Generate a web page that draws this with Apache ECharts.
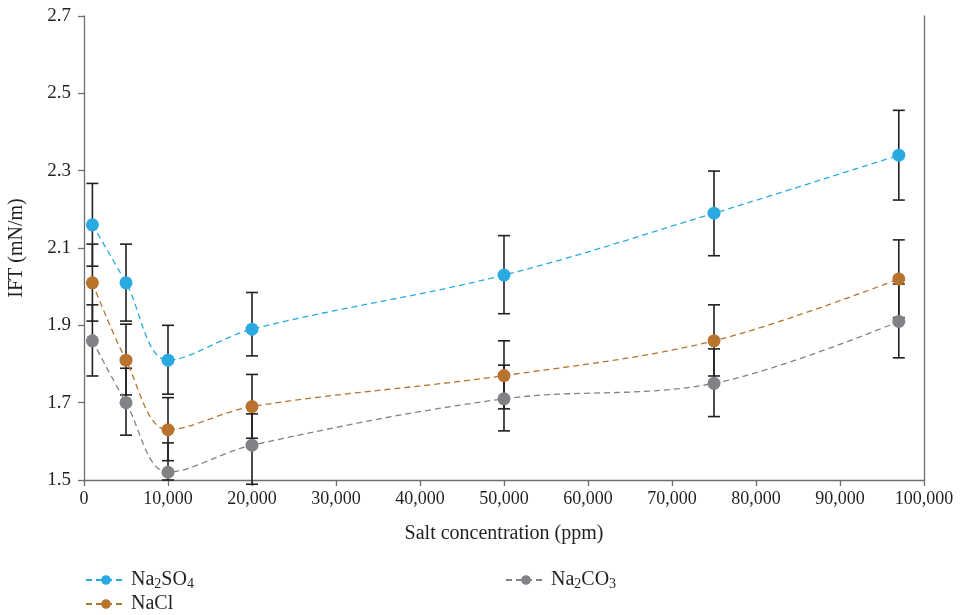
<!DOCTYPE html>
<html>
<head>
<meta charset="utf-8">
<script src="https://cdn.jsdelivr.net/npm/echarts@6/dist/echarts.min.js"></script>
<style>
  html, body { margin: 0; padding: 0; background: #fff; }
  #chart { width: 960px; height: 615px; }
</style>
</head>
<body>
<div id="chart"></div>
<script>
// salt concentration (ppm)
var conc = [1000, 5000, 10000, 20000, 50000, 75000, 97000];

// IFT values (mN/m)
var na2so4 = [2.16, 2.01, 1.81, 1.89, 2.03, 2.19, 2.34];
var nacl   = [2.01, 1.81, 1.63, 1.69, 1.77, 1.86, 2.02];
var na2co3 = [1.86, 1.70, 1.52, 1.59, 1.71, 1.75, 1.91];

// error bar ends
var na2so4Low  = [2.053, 1.911, 1.722, 1.821, 1.930, 2.080, 2.224];
var na2so4High = [2.267, 2.110, 1.900, 1.985, 2.132, 2.299, 2.456];
var naclLow    = [1.911, 1.720, 1.550, 1.608, 1.684, 1.769, 1.920];
var naclHigh   = [2.110, 1.903, 1.713, 1.773, 1.860, 1.953, 2.121];
var na2co3Low  = [1.769, 1.616, 1.500, 1.489, 1.627, 1.664, 1.816];
var na2co3High = [1.953, 1.789, 1.596, 1.671, 1.797, 1.839, 2.007];

var yTicks = [1.5, 1.7, 1.9, 2.1, 2.3, 2.5, 2.7];

var FONT = '"Liberation Serif", "DejaVu Serif", serif';
var INK = '#231f20';
var AXIS = '#6d6e71';

function pairs(xs, ys) {
  return xs.map(function (x, i) { return [x, ys[i]]; });
}
function errData(xs, lo, hi) {
  return xs.map(function (x, i) { return [x, lo[i], hi[i]]; });
}

function renderErr(params, api) {
  var x = api.value(0);
  var top = api.coord([x, api.value(2)]);
  var bot = api.coord([x, api.value(1)]);
  var w = 6;
  var st = { stroke: INK, lineWidth: 1.6 };
  return {
    type: 'group',
    children: [
      { type: 'line', shape: { x1: top[0], y1: top[1], x2: bot[0], y2: bot[1] }, style: st },
      { type: 'line', shape: { x1: top[0] - w, y1: top[1], x2: top[0] + w, y2: top[1] }, style: st },
      { type: 'line', shape: { x1: bot[0] - w, y1: bot[1], x2: bot[0] + w, y2: bot[1] }, style: st }
    ]
  };
}

function lineSeries(name, data, color) {
  return {
    name: name,
    type: 'line',
    data: pairs(conc, data),
    smooth: 0.35,
    symbol: 'circle',
    symbolSize: 13,
    z: 3,
    itemStyle: { color: color },
    lineStyle: { color: color, width: 1.3, type: [6, 4] }
  };
}

function errSeries(lo, hi) {
  return {
    type: 'custom',
    data: errData(conc, lo, hi),
    renderItem: renderErr,
    z: 2,
    silent: true
  };
}

var subRich = {
  n: { fontFamily: FONT, fontSize: 20, color: INK, lineHeight: 22 },
  s: { fontFamily: FONT, fontSize: 14, color: INK, lineHeight: 14, verticalAlign: 'bottom' }
};
var legendNames = {
  'Na2SO4': '{n|Na}{s|2}{n|SO}{s|4}',
  'NaCl': '{n|NaCl}',
  'Na2CO3': '{n|Na}{s|2}{n|CO}{s|3}'
};
function legendFmt(name) { return legendNames[name]; }

function legendAt(name, left, top) {
  return {
    data: [name],
    left: left, top: top,
    itemWidth: 40, itemHeight: 12, itemGap: 7,
    formatter: legendFmt,
    textStyle: { rich: subRich }
  };
}

var option = {
  backgroundColor: '#fff',
  animation: false,
  grid: { left: 84, right: 36, top: 16, bottom: 135, containLabel: false, outerBoundsMode: 'none' },
  legend: [
    legendAt('Na2SO4', 80, 565),
    legendAt('NaCl', 80, 589),
    legendAt('Na2CO3', 500, 565)
  ],
  xAxis: {
    type: 'value',
    min: 0, max: 100000, interval: 10000,
    name: 'Salt concentration (ppm)',
    nameLocation: 'middle',
    nameGap: 44,
    nameTextStyle: { fontFamily: FONT, fontSize: 20, color: INK },
    axisLine: { lineStyle: { color: AXIS, width: 1.3 } },
    axisTick: { show: true, length: 6, lineStyle: { color: AXIS, width: 1.3 } },
    axisLabel: {
      fontFamily: FONT, fontSize: 18, color: INK, margin: 10,
      formatter: function (v) { return v.toLocaleString('en-US'); }
    },
    splitLine: { show: false }
  },
  yAxis: [
    {
      type: 'value',
      min: 1.5, max: 2.7, interval: 0.2,
      name: 'IFT (mN/m)',
      nameLocation: 'middle',
      nameGap: 57,
      nameTextStyle: { fontFamily: FONT, fontSize: 20, color: INK },
      axisLine: { show: true, lineStyle: { color: AXIS, width: 1.3 } },
      axisTick: { show: true, length: 6, lineStyle: { color: AXIS, width: 1.3 } },
      axisLabel: {
        fontFamily: FONT, fontSize: 19, color: INK, margin: 13,
        formatter: function (v) {
          for (var i = 0; i < yTicks.length; i++) {
            if (Math.abs(v - yTicks[i]) < 1e-6) return yTicks[i].toFixed(1);
          }
          return '';
        }
      },
      splitLine: { show: false }
    },
    {
      type: 'value',
      position: 'right',
      min: 1.5, max: 2.7, interval: 0.2,
      axisLine: { show: true, lineStyle: { color: AXIS, width: 1.3 } },
      axisTick: { show: false },
      axisLabel: { show: false },
      splitLine: { show: false }
    }
  ],
  series: [
    errSeries(na2so4Low, na2so4High),
    errSeries(naclLow, naclHigh),
    errSeries(na2co3Low, na2co3High),
    lineSeries('Na2SO4', na2so4, '#29abe2'),
    lineSeries('NaCl', nacl, '#b8732e'),
    lineSeries('Na2CO3', na2co3, '#808285')
  ]
};

var myChart = echarts.init(document.getElementById('chart'));
myChart.setOption(option);
</script>
</body>
</html>
